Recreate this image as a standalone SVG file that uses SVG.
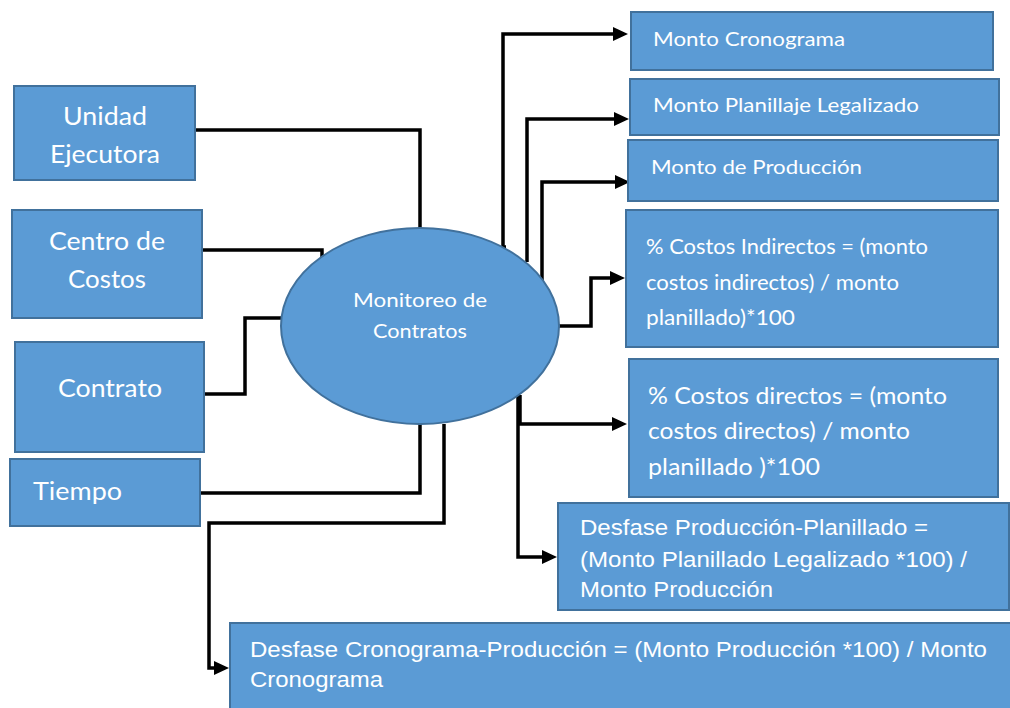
<svg xmlns="http://www.w3.org/2000/svg" width="1010" height="708" viewBox="0 0 1010 708">
  <style>
    .box { fill: #5B9BD5; stroke: #41719C; stroke-width: 2; }
    .t { fill: #FFFFFF; font-family: Lato, "Open Sans", sans-serif; }
    .a { fill: #FFFFFF; font-family: "Liberation Sans", Arial, sans-serif; }
    .wire { fill: none; stroke: #000000; stroke-width: 3.5; }
    .arrow { fill: none; stroke: #000000; stroke-width: 3.5; marker-end: url(#head); }
  </style>
  <defs>
    <!-- filled arrowhead, 15 long x 14 wide; tip sits 4px past the path end -->
    <marker id="head" viewBox="0 0 15 14" refX="11" refY="7" markerWidth="15" markerHeight="14" markerUnits="userSpaceOnUse" orient="auto">
      <path d="M0,0 L15,7 L0,14 Z" fill="#000000"/>
    </marker>
  </defs>
  <rect width="1010" height="708" fill="#FFFFFF"/>

  <!-- connectors -->
  <g id="connectors">
    <path class="wire" d="M195,130 H420 V228"/>
    <path class="wire" d="M202,250 H322 V257"/>
    <path class="wire" d="M204,394 H245 V318 H284"/>
    <path class="wire" d="M200,493 H420 V424"/>
    <path class="arrow" d="M444,424 V523 H209 V668 H225"/>
    <path class="arrow" d="M506,247 H503 V34 H624"/>
    <path class="arrow" d="M527,262 V119 H625"/>
    <path class="arrow" d="M542,283 V182 H626"/>
    <path class="arrow" d="M559,326 H591 V278 H621"/>
    <path class="arrow" d="M520,395 V424 H623"/>
    <path class="arrow" d="M518,395 V557 H553"/>
  </g>

  <g id="unidad">
    <rect class="box" x="14" y="86" width="181" height="94"/>
    <text class="t" font-size="25" x="105" y="125" text-anchor="middle" textLength="84" lengthAdjust="spacingAndGlyphs">Unidad</text>
    <text class="t" font-size="25" x="105" y="163" text-anchor="middle" textLength="110" lengthAdjust="spacingAndGlyphs">Ejecutora</text>
  </g>
  <g id="centro">
    <rect class="box" x="12" y="210" width="190" height="108"/>
    <text class="t" font-size="25" x="107" y="250" text-anchor="middle" textLength="116" lengthAdjust="spacingAndGlyphs">Centro de</text>
    <text class="t" font-size="25" x="107" y="288" text-anchor="middle" textLength="78" lengthAdjust="spacingAndGlyphs">Costos</text>
  </g>
  <g id="contrato">
    <rect class="box" x="15" y="342" width="189" height="110"/>
    <text class="t" font-size="25" x="110" y="397" text-anchor="middle" textLength="104" lengthAdjust="spacingAndGlyphs">Contrato</text>
  </g>
  <g id="tiempo">
    <rect class="box" x="10" y="459" width="190" height="67"/>
    <text class="t" font-size="25" x="33" y="500" textLength="89" lengthAdjust="spacingAndGlyphs">Tiempo</text>
  </g>

  <g id="monitoreo">
    <ellipse class="box" cx="420" cy="326" rx="139" ry="98"/>
    <text class="t" font-size="20" x="420" y="307" text-anchor="middle" textLength="134" lengthAdjust="spacingAndGlyphs">Monitoreo de</text>
    <text class="t" font-size="20" x="420" y="338" text-anchor="middle" textLength="94" lengthAdjust="spacingAndGlyphs">Contratos</text>
  </g>

  <g id="monto-cronograma">
    <rect class="box" x="631" y="12" width="362" height="58"/>
    <text class="t" font-size="19" x="653" y="46" textLength="192" lengthAdjust="spacingAndGlyphs">Monto Cronograma</text>
  </g>
  <g id="monto-planillaje">
    <rect class="box" x="630" y="79" width="369" height="56"/>
    <text class="t" font-size="19" x="653" y="112" textLength="266" lengthAdjust="spacingAndGlyphs">Monto Planillaje Legalizado</text>
  </g>
  <g id="monto-produccion">
    <rect class="box" x="628" y="140" width="370" height="61"/>
    <text class="t" font-size="19" x="651" y="174" textLength="211" lengthAdjust="spacingAndGlyphs">Monto de Producción</text>
  </g>
  <g id="costos-indirectos">
    <rect class="box" x="626" y="210" width="372" height="137"/>
    <text class="t" font-size="21" x="646" y="254" textLength="282" lengthAdjust="spacingAndGlyphs">% Costos Indirectos = (monto</text>
    <text class="t" font-size="21" x="646" y="290" textLength="253" lengthAdjust="spacingAndGlyphs">costos indirectos) / monto</text>
    <text class="t" font-size="21" x="646" y="325" textLength="149" lengthAdjust="spacingAndGlyphs">planillado)*100</text>
  </g>
  <g id="costos-directos">
    <rect class="box" x="629" y="359" width="369" height="138"/>
    <text class="t" font-size="23" x="648" y="404" textLength="299" lengthAdjust="spacingAndGlyphs">% Costos directos = (monto</text>
    <text class="t" font-size="23" x="648" y="439" textLength="262" lengthAdjust="spacingAndGlyphs">costos directos) / monto</text>
    <text class="t" font-size="23" x="648" y="475" textLength="172" lengthAdjust="spacingAndGlyphs">planillado )*100</text>
  </g>
  <g id="desfase-produccion">
    <rect class="box" x="558" y="503" width="451" height="107"/>
    <text class="a" font-size="22" x="580" y="535" textLength="348" lengthAdjust="spacingAndGlyphs">Desfase Producción-Planillado =</text>
    <text class="a" font-size="22" x="580" y="567" textLength="387" lengthAdjust="spacingAndGlyphs">(Monto Planillado Legalizado *100) /</text>
    <text class="a" font-size="22" x="580" y="597" textLength="193" lengthAdjust="spacingAndGlyphs">Monto Producción</text>
  </g>
  <g id="desfase-cronograma">
    <rect class="box" x="230" y="623" width="782" height="90"/>
    <text class="a" font-size="22" x="250" y="657" textLength="737" lengthAdjust="spacingAndGlyphs">Desfase Cronograma-Producción = (Monto Producción *100) / Monto</text>
    <text class="a" font-size="22" x="250" y="687" textLength="133" lengthAdjust="spacingAndGlyphs">Cronograma</text>
  </g>
</svg>
